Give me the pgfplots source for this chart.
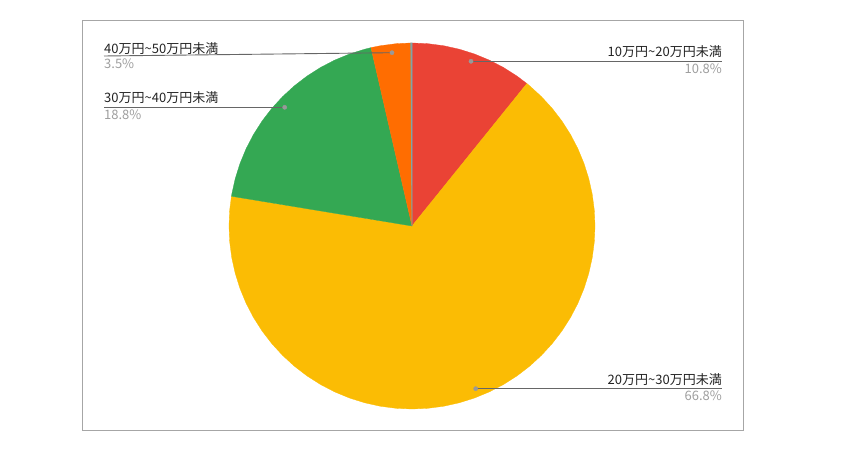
\documentclass[border=0pt]{standalone}
\usepackage{fontspec}
\setmainfont{Noto Sans CJK JP}
\usepackage{pgfplots}
\pgfplotsset{compat=1.18}

\definecolor{sred}{HTML}{EA4335}
\definecolor{syellow}{HTML}{FBBC04}
\definecolor{sgreen}{HTML}{34A853}
\definecolor{sorange}{HTML}{FF6D01}
\definecolor{steal}{HTML}{7FA4A8}
\definecolor{framegray}{HTML}{A6A6A6}
\definecolor{leadgray}{HTML}{666666}
\definecolor{dotgray}{HTML}{999999}
\definecolor{pctgray}{HTML}{9E9E9E}
\definecolor{txt}{HTML}{222222}

\begin{document}
\begin{tikzpicture}[
    lbl/.style={font=\fontsize{13}{15}\selectfont, text=txt, inner sep=0pt},
    pct/.style={font=\fontsize{13}{15}\selectfont, text=pctgray, inner sep=0pt},
]
\begin{axis}[
    width=849pt, height=455pt, scale only axis,
    xmin=-412, xmax=437, ymin=-229, ymax=226,
    hide axis, clip=false,
]
% canvas and chart frame
\path (axis cs:-412,-229) rectangle (axis cs:437,226);
\draw[framegray, line width=0.9pt] (axis cs:-330,-204) rectangle (axis cs:331,206);

% slices (angle, radius), clockwise from 12 o'clock
% 10万円~20万円未満 10.8%
\addplot[data cs=polar, fill=sred, draw=sred, line width=0.3pt] coordinates {
 (0,0) (90,183) (85,183) (80,183) (75,183) (70,183) (65,183) (60,183) (55,183) (51.12,183) (0,0)
};
% 20万円~30万円未満 66.8%
\addplot[data cs=polar, fill=syellow, draw=syellow, line width=0.3pt] coordinates {
 (0,0) (51.12,183) (50,183) (45,183) (40,183) (35,183) (30,183) (25,183) (20,183) (15,183) (10,183) (5,183)
 (0,183) (-5,183) (-10,183) (-15,183) (-20,183) (-25,183) (-30,183) (-35,183) (-40,183) (-45,183)
 (-50,183) (-55,183) (-60,183) (-65,183) (-70,183) (-75,183) (-80,183) (-85,183) (-90,183)
 (-95,183) (-100,183) (-105,183) (-110,183) (-115,183) (-120,183) (-125,183) (-130,183) (-135,183)
 (-140,183) (-145,183) (-150,183) (-155,183) (-160,183) (-165,183) (-170,183) (-175,183) (-180,183)
 (-185,183) (-189.36,183) (0,0)
};
% 30万円~40万円未満 18.8%
\addplot[data cs=polar, fill=sgreen, draw=sgreen, line width=0.3pt] coordinates {
 (0,0) (-189.36,183) (-190,183) (-195,183) (-200,183) (-205,183) (-210,183) (-215,183) (-220,183)
 (-225,183) (-230,183) (-235,183) (-240,183) (-245,183) (-250,183) (-255,183) (-257.04,183) (0,0)
};
% 40万円~50万円未満 3.5%
\addplot[data cs=polar, fill=sorange, draw=sorange, line width=0.3pt] coordinates {
 (0,0) (-257.04,183) (-260,183) (-265,183) (-269.64,183) (0,0)
};
% remaining 0.1%
\addplot[data cs=polar, fill=steal, draw=steal, line width=0.8pt] coordinates {
 (0,0) (-269.64,183) (-270,183) (0,0)
};

% leader lines
\addplot[leadgray, line width=0.9pt] coordinates {(59,164.7) (310,164.7)};
\addplot[leadgray, line width=0.9pt] coordinates {(-308,170) (-20,173.3)};
\addplot[leadgray, line width=0.9pt] coordinates {(-308,118.7) (-127.3,118.7)};
\addplot[leadgray, line width=0.9pt] coordinates {(63.7,-162.7) (310,-162.7)};
\addplot[only marks, mark=*, mark size=2.1pt, color=dotgray]
  coordinates {(59,164.7) (-20,173.3) (-127.3,118.7) (63.7,-162.7)};

% labels
\node[lbl, anchor=base east] at (axis cs:310,169.5) {10万円\textasciitilde20万円未満};
\node[pct, anchor=base east] at (axis cs:310,152) {10.8\%};
\node[lbl, anchor=base east] at (axis cs:310,-159) {20万円\textasciitilde30万円未満};
\node[pct, anchor=base east] at (axis cs:310,-175) {66.8\%};
\node[lbl, anchor=base west] at (axis cs:-308,172.7) {40万円\textasciitilde50万円未満};
\node[pct, anchor=base west] at (axis cs:-308,157.7) {3.5\%};
\node[lbl, anchor=base west] at (axis cs:-308,123) {30万円\textasciitilde40万円未満};
\node[pct, anchor=base west] at (axis cs:-308,106) {18.8\%};
\end{axis}
\end{tikzpicture}
\end{document}
